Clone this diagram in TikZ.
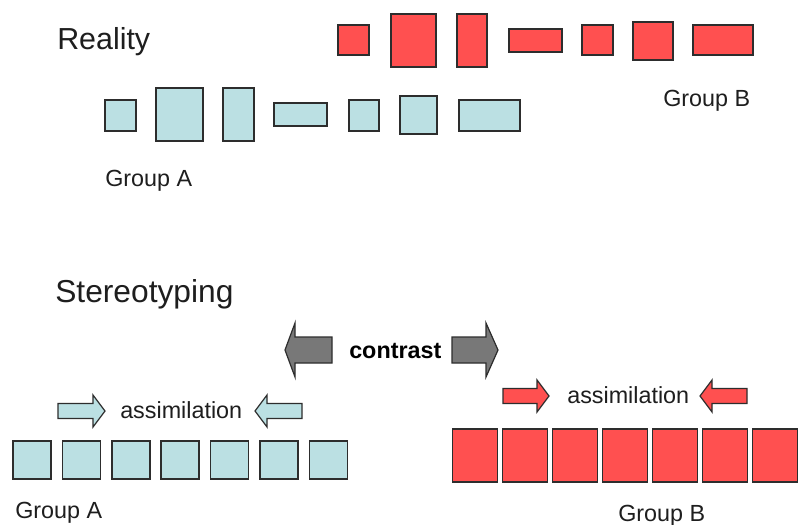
\documentclass[tikz,border=0pt]{standalone}
\usepackage{fontspec}
\setmainfont{Liberation Sans}
\definecolor{bluefill}{RGB}{187,224,227}
\definecolor{redfill}{RGB}{255,80,80}
\definecolor{grayfill}{RGB}{120,120,120}
\definecolor{edge}{RGB}{45,45,45}
\definecolor{txt}{RGB}{30,30,30}
\begin{document}
\begin{tikzpicture}[x=0.75pt,y=-0.75pt,
  bluebox/.style={draw=edge,fill=bluefill,line width=1.1pt},
  redbox/.style={draw=edge,fill=redfill,line width=1.1pt},
  grayarrow/.style={draw=edge,fill=grayfill,line width=0.9pt,line join=miter},
  bluearrow/.style={draw=edge,fill=bluefill,line width=0.9pt,line join=miter},
  redarrow/.style={draw=edge,fill=redfill,line width=0.9pt,line join=miter},
  title/.style={anchor=base west,inner sep=0pt,text=txt,font=\fontsize{22.8}{26}\selectfont},
  label/.style={anchor=base west,inner sep=0pt,text=txt,font=\fontsize{17.5}{21}\selectfont},
  boldlabel/.style={anchor=base west,inner sep=0pt,text=black,font=\fontsize{17.5}{21}\selectfont\bfseries}]
\clip (0,0) rectangle (798,524);
\fill[white] (0,0) rectangle (798,524);
% ---- Reality ----
\node[title] (reality) at (57,50) {Reality};
% red boxes
\draw[redbox] (338,25) rectangle (369,55) coordinate (r1);
\draw[redbox] (391,14) rectangle (436,67) coordinate (r2);
\draw[redbox] (457,14) rectangle (487,67) coordinate (r3);
\draw[redbox] (509,29) rectangle (562,52) coordinate (r4);
\draw[redbox] (582,25) rectangle (613,55) coordinate (r5);
\draw[redbox] (633,22) rectangle (673,60) coordinate (r6);
\draw[redbox] (693,25) rectangle (753,55) coordinate (r7);
\node[label] (groupBtop) at (663,107) {Group B};
% blue boxes
\draw[bluebox] (105,100) rectangle (136,131) coordinate (b1);
\draw[bluebox] (156,88) rectangle (203,141) coordinate (b2);
\draw[bluebox] (223,88) rectangle (254,141) coordinate (b3);
\draw[bluebox] (274,103) rectangle (327,126) coordinate (b4);
\draw[bluebox] (349,100) rectangle (379,131) coordinate (b5);
\draw[bluebox] (400,96) rectangle (437,134) coordinate (b6);
\draw[bluebox] (459,100) rectangle (520,131) coordinate (b7);
\node[label] (groupAtop) at (105,186) {Group A};
% ---- Stereotyping ----
\node[title,font=\fontsize{23.8}{27}\selectfont] (stereo) at (55,302) {Stereotyping};
% contrast arrows
\draw[grayarrow] (332,337) -- (295,337) -- (295,323) -- (285,350) -- (295,377) -- (295,363) -- (332,363) -- cycle;
\draw[grayarrow] (452,337) -- (486,337) -- (486,323) -- (498,350) -- (486,377) -- (486,363) -- (452,363) -- cycle;
\node[boldlabel] (contrast) at (349,358) {contrast};
% blue assimilation
\draw[bluearrow] (58,403.5) -- (93,403.5) -- (93,395) -- (105,411) -- (93,427) -- (93,418.5) -- (58,418.5) -- cycle;
\draw[bluearrow] (302,403.5) -- (267,403.5) -- (267,395) -- (255,411) -- (267,427) -- (267,418.5) -- (302,418.5) -- cycle;
\node[label] (assimA) at (120,418) {assimilation};
% red assimilation
\draw[redarrow] (503,388.5) -- (537,388.5) -- (537,380) -- (549,396) -- (537,412) -- (537,403.5) -- (503,403.5) -- cycle;
\draw[redarrow] (747,388.5) -- (712,388.5) -- (712,380) -- (700,396) -- (712,412) -- (712,403.5) -- (747,403.5) -- cycle;
\node[label] (assimB) at (567,403) {assimilation};
% blue stereotype squares
\foreach \i in {0,...,6} {
  \draw[bluebox] ({13+49.4*\i},441) rectangle ({51+49.4*\i},479);
}
% red stereotype squares
\foreach \i in {0,...,6} {
  \draw[redbox] ({452.5+50*\i},429) rectangle ({497.5+50*\i},482);
}
\node[label] (groupAbot) at (15,518) {Group A};
\node[label] (groupBbot) at (618,521) {Group B};
\end{tikzpicture}
\end{document}
